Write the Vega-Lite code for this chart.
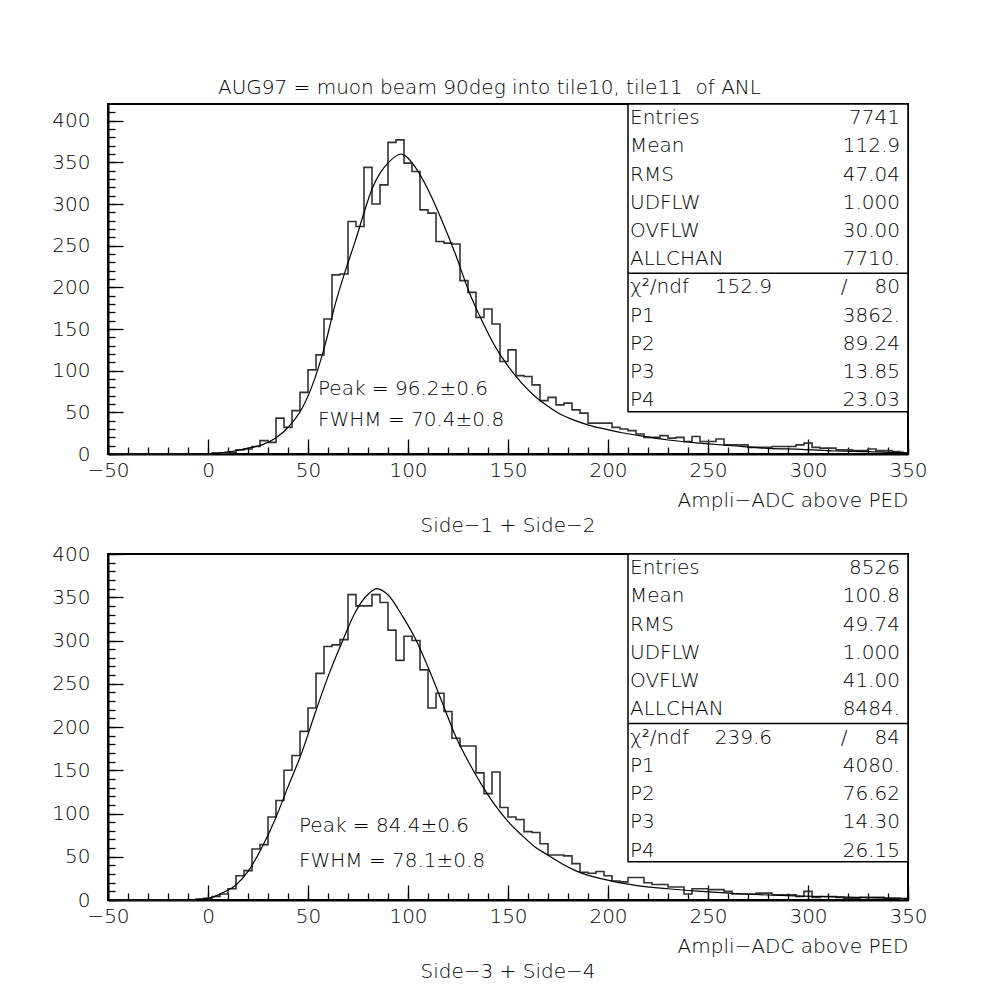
{
  "$schema": "https://vega.github.io/schema/vega-lite/v6.json",
  "background": "white",
  "padding": {"left": 50, "top": 78, "right": 5, "bottom": 5},
  "title": {"text": "AUG97 = muon beam 90deg into tile10, tile11\u00a0 of ANL", "anchor": "middle", "offset": 4},
  "spacing": 100,
  "bounds": "flush",
  "datasets": {
    "h1": [
      {"adc": -48, "n": 0}, {"adc": -44, "n": 0}, {"adc": -40, "n": 0}, {"adc": -36, "n": 0}, {"adc": -32, "n": 0},
      {"adc": -28, "n": 0}, {"adc": -24, "n": 0}, {"adc": -20, "n": 0}, {"adc": -16, "n": 0}, {"adc": -12, "n": 0},
      {"adc": -8, "n": 0}, {"adc": -4, "n": 0}, {"adc": 0, "n": 0}, {"adc": 4, "n": 1}, {"adc": 8, "n": 1},
      {"adc": 12, "n": 2}, {"adc": 16, "n": 5}, {"adc": 20, "n": 6}, {"adc": 24, "n": 9}, {"adc": 28, "n": 16},
      {"adc": 32, "n": 14}, {"adc": 36, "n": 43}, {"adc": 40, "n": 32}, {"adc": 44, "n": 52}, {"adc": 48, "n": 74},
      {"adc": 52, "n": 101}, {"adc": 56, "n": 119}, {"adc": 60, "n": 162}, {"adc": 64, "n": 215}, {"adc": 68, "n": 216},
      {"adc": 72, "n": 279}, {"adc": 76, "n": 273}, {"adc": 80, "n": 344}, {"adc": 84, "n": 300}, {"adc": 88, "n": 323},
      {"adc": 92, "n": 374}, {"adc": 96, "n": 377}, {"adc": 100, "n": 349}, {"adc": 104, "n": 339}, {"adc": 108, "n": 293},
      {"adc": 112, "n": 289}, {"adc": 116, "n": 255}, {"adc": 120, "n": 253}, {"adc": 124, "n": 252}, {"adc": 128, "n": 208},
      {"adc": 132, "n": 194}, {"adc": 136, "n": 164}, {"adc": 140, "n": 174}, {"adc": 144, "n": 156}, {"adc": 148, "n": 111},
      {"adc": 152, "n": 125}, {"adc": 156, "n": 94}, {"adc": 160, "n": 93}, {"adc": 164, "n": 83}, {"adc": 168, "n": 64},
      {"adc": 172, "n": 68}, {"adc": 176, "n": 59}, {"adc": 180, "n": 61}, {"adc": 184, "n": 53}, {"adc": 188, "n": 49},
      {"adc": 192, "n": 37}, {"adc": 196, "n": 37}, {"adc": 200, "n": 37}, {"adc": 204, "n": 32}, {"adc": 208, "n": 30},
      {"adc": 212, "n": 28}, {"adc": 216, "n": 24}, {"adc": 220, "n": 20}, {"adc": 224, "n": 20}, {"adc": 228, "n": 22},
      {"adc": 232, "n": 19}, {"adc": 236, "n": 20}, {"adc": 240, "n": 15}, {"adc": 244, "n": 21}, {"adc": 248, "n": 15},
      {"adc": 252, "n": 15}, {"adc": 256, "n": 18}, {"adc": 260, "n": 11}, {"adc": 264, "n": 11}, {"adc": 268, "n": 11},
      {"adc": 272, "n": 8}, {"adc": 276, "n": 8}, {"adc": 280, "n": 8}, {"adc": 284, "n": 9}, {"adc": 288, "n": 9},
      {"adc": 292, "n": 9}, {"adc": 296, "n": 11}, {"adc": 300, "n": 13}, {"adc": 304, "n": 8}, {"adc": 308, "n": 7},
      {"adc": 312, "n": 7}, {"adc": 316, "n": 5}, {"adc": 320, "n": 5}, {"adc": 324, "n": 4}, {"adc": 328, "n": 4},
      {"adc": 332, "n": 6}, {"adc": 336, "n": 4}, {"adc": 340, "n": 4}, {"adc": 344, "n": 3}, {"adc": 348, "n": 2}
    ],
    "h2": [
      {"adc": -48, "n": 0}, {"adc": -44, "n": 0}, {"adc": -40, "n": 0}, {"adc": -36, "n": 0}, {"adc": -32, "n": 0},
      {"adc": -28, "n": 0}, {"adc": -24, "n": 0}, {"adc": -20, "n": 0}, {"adc": -16, "n": 0}, {"adc": -12, "n": 0},
      {"adc": -8, "n": 0}, {"adc": -4, "n": 1}, {"adc": 0, "n": 2}, {"adc": 4, "n": 4}, {"adc": 8, "n": 7},
      {"adc": 12, "n": 13}, {"adc": 16, "n": 28}, {"adc": 20, "n": 34}, {"adc": 24, "n": 59}, {"adc": 28, "n": 64},
      {"adc": 32, "n": 96}, {"adc": 36, "n": 115}, {"adc": 40, "n": 150}, {"adc": 44, "n": 167}, {"adc": 48, "n": 195},
      {"adc": 52, "n": 222}, {"adc": 56, "n": 262}, {"adc": 60, "n": 293}, {"adc": 64, "n": 295}, {"adc": 68, "n": 301},
      {"adc": 72, "n": 353}, {"adc": 76, "n": 340}, {"adc": 80, "n": 340}, {"adc": 84, "n": 353}, {"adc": 88, "n": 344},
      {"adc": 92, "n": 312}, {"adc": 96, "n": 277}, {"adc": 100, "n": 305}, {"adc": 104, "n": 300}, {"adc": 108, "n": 266},
      {"adc": 112, "n": 222}, {"adc": 116, "n": 239}, {"adc": 120, "n": 218}, {"adc": 124, "n": 187}, {"adc": 128, "n": 178},
      {"adc": 132, "n": 178}, {"adc": 136, "n": 147}, {"adc": 140, "n": 123}, {"adc": 144, "n": 148}, {"adc": 148, "n": 107},
      {"adc": 152, "n": 96}, {"adc": 156, "n": 93}, {"adc": 160, "n": 79}, {"adc": 164, "n": 78}, {"adc": 168, "n": 65},
      {"adc": 172, "n": 52}, {"adc": 176, "n": 52}, {"adc": 180, "n": 51}, {"adc": 184, "n": 42}, {"adc": 188, "n": 32},
      {"adc": 192, "n": 31}, {"adc": 196, "n": 33}, {"adc": 200, "n": 28}, {"adc": 204, "n": 22}, {"adc": 208, "n": 21},
      {"adc": 212, "n": 26}, {"adc": 216, "n": 26}, {"adc": 220, "n": 20}, {"adc": 224, "n": 18}, {"adc": 228, "n": 18},
      {"adc": 232, "n": 15}, {"adc": 236, "n": 15}, {"adc": 240, "n": 7}, {"adc": 244, "n": 13}, {"adc": 248, "n": 13},
      {"adc": 252, "n": 12}, {"adc": 256, "n": 12}, {"adc": 260, "n": 10}, {"adc": 264, "n": 7}, {"adc": 268, "n": 7},
      {"adc": 272, "n": 7}, {"adc": 276, "n": 8}, {"adc": 280, "n": 8}, {"adc": 284, "n": 6}, {"adc": 288, "n": 6},
      {"adc": 292, "n": 6}, {"adc": 296, "n": 4}, {"adc": 300, "n": 10}, {"adc": 304, "n": 3}, {"adc": 308, "n": 4},
      {"adc": 312, "n": 4}, {"adc": 316, "n": 3}, {"adc": 320, "n": 2}, {"adc": 324, "n": 2}, {"adc": 328, "n": 3},
      {"adc": 332, "n": 3}, {"adc": 336, "n": 3}, {"adc": 340, "n": 2}, {"adc": 344, "n": 2}, {"adc": 348, "n": 1}
    ],
    "f1": [
      {"adc": -50, "fit": 0}, {"adc": -20, "fit": 0}, {"adc": -10, "fit": 0.05}, {"adc": -5, "fit": 0.1}, {"adc": 0, "fit": 0.3},
      {"adc": 5, "fit": 1}, {"adc": 10, "fit": 2.5}, {"adc": 15, "fit": 4.5}, {"adc": 20, "fit": 7}, {"adc": 27, "fit": 11},
      {"adc": 33.7, "fit": 18.8}, {"adc": 40.3, "fit": 32.7}, {"adc": 47, "fit": 54.7}, {"adc": 53.7, "fit": 92.6}, {"adc": 58.7, "fit": 132.5},
      {"adc": 63.7, "fit": 180.4}, {"adc": 68.7, "fit": 220}, {"adc": 73.7, "fit": 256}, {"adc": 77.8, "fit": 288}, {"adc": 82, "fit": 318},
      {"adc": 86, "fit": 337}, {"adc": 90.3, "fit": 350}, {"adc": 96.5, "fit": 360}, {"adc": 103.7, "fit": 344}, {"adc": 110.3, "fit": 316},
      {"adc": 117, "fit": 280}, {"adc": 123.7, "fit": 240}, {"adc": 130.3, "fit": 196}, {"adc": 137, "fit": 160}, {"adc": 143.7, "fit": 128.5},
      {"adc": 150.3, "fit": 104.6}, {"adc": 157, "fit": 84.7}, {"adc": 163.7, "fit": 68.7}, {"adc": 170.3, "fit": 56.7}, {"adc": 177, "fit": 46.7},
      {"adc": 183.7, "fit": 40}, {"adc": 190.3, "fit": 34.7}, {"adc": 197, "fit": 30.7}, {"adc": 207, "fit": 25.5}, {"adc": 213.7, "fit": 22.8},
      {"adc": 230, "fit": 16.8}, {"adc": 247, "fit": 12.8}, {"adc": 263.7, "fit": 9.6}, {"adc": 280, "fit": 6.8}, {"adc": 297, "fit": 5.6},
      {"adc": 313.7, "fit": 3.6}, {"adc": 330, "fit": 2.8}, {"adc": 347, "fit": 1.6}, {"adc": 350, "fit": 1.5}
    ],
    "f2": [
      {"adc": -50, "fit": 0}, {"adc": -20, "fit": 0}, {"adc": -10, "fit": 0.2}, {"adc": -3, "fit": 1}, {"adc": 2, "fit": 3},
      {"adc": 7, "fit": 8}, {"adc": 13.7, "fit": 16.8}, {"adc": 20.3, "fit": 34}, {"adc": 27, "fit": 61}, {"adc": 33.7, "fit": 94},
      {"adc": 40.3, "fit": 132.5}, {"adc": 47, "fit": 171}, {"adc": 53.7, "fit": 217}, {"adc": 60.3, "fit": 260}, {"adc": 67, "fit": 298},
      {"adc": 73.7, "fit": 333}, {"adc": 80.3, "fit": 354}, {"adc": 84.4, "fit": 360}, {"adc": 90.3, "fit": 352}, {"adc": 97, "fit": 329},
      {"adc": 103.7, "fit": 302}, {"adc": 110.3, "fit": 267.6}, {"adc": 117, "fit": 229}, {"adc": 123.7, "fit": 190}, {"adc": 130.3, "fit": 159.5},
      {"adc": 137, "fit": 132.5}, {"adc": 143.7, "fit": 109}, {"adc": 150.3, "fit": 90}, {"adc": 157, "fit": 74.7}, {"adc": 163.7, "fit": 61},
      {"adc": 170.3, "fit": 51.5}, {"adc": 177, "fit": 41.9}, {"adc": 183.7, "fit": 34}, {"adc": 190.3, "fit": 28.4}, {"adc": 197, "fit": 24.5},
      {"adc": 207, "fit": 19.5}, {"adc": 213.7, "fit": 17}, {"adc": 230, "fit": 13}, {"adc": 247, "fit": 10}, {"adc": 263.7, "fit": 7.5},
      {"adc": 280, "fit": 5.8}, {"adc": 297, "fit": 4.5}, {"adc": 313.7, "fit": 3.5}, {"adc": 330, "fit": 2.7}, {"adc": 347, "fit": 2},
      {"adc": 350, "fit": 1.9}
    ],
    "s1": [
      {"row": 1, "label": "Entries", "value": "7741"},
      {"row": 2, "label": "Mean", "value": "112.9"},
      {"row": 3, "label": "RMS", "value": "47.04"},
      {"row": 4, "label": "UDFLW", "value": "1.000"},
      {"row": 5, "label": "OVFLW", "value": "30.00"},
      {"row": 6, "label": "ALLCHAN", "value": "7710."},
      {"row": 7, "label": "χ²/ndf", "value": "80", "chi2": "152.9"},
      {"row": 8, "label": "P1", "value": "3862."},
      {"row": 9, "label": "P2", "value": "89.24"},
      {"row": 10, "label": "P3", "value": "13.85"},
      {"row": 11, "label": "P4", "value": "23.03"}
    ],
    "s2": [
      {"row": 1, "label": "Entries", "value": "8526"},
      {"row": 2, "label": "Mean", "value": "100.8"},
      {"row": 3, "label": "RMS", "value": "49.74"},
      {"row": 4, "label": "UDFLW", "value": "1.000"},
      {"row": 5, "label": "OVFLW", "value": "41.00"},
      {"row": 6, "label": "ALLCHAN", "value": "8484."},
      {"row": 7, "label": "χ²/ndf", "value": "84", "chi2": "239.6"},
      {"row": 8, "label": "P1", "value": "4080."},
      {"row": 9, "label": "P2", "value": "76.62"},
      {"row": 10, "label": "P3", "value": "14.30"},
      {"row": 11, "label": "P4", "value": "26.15"}
    ]
  },
  "vconcat": [
    {
      "width": 800,
      "height": 350,
      "title": {"text": "Side−1 + Side−2", "orient": "bottom", "anchor": "middle", "offset": 6},
      "layer": [
        {
          "data": {"name": "h1"},
          "mark": {"type": "line", "interpolate": "step", "color": "#333333", "strokeWidth": 1.6},
          "encoding": {
            "x": {"field": "adc", "type": "quantitative", "scale": {"domain": [-50, 350], "nice": false, "zero": false},
              "axis": {"orient": "bottom", "values": [-50, 0, 50, 100, 150, 200, 250, 300, 350], "tickSize": -15, "labelPadding": 21, "labelFlush": false, "labelOverlap": false,
                "title": "Ampli−ADC above PED", "titleAnchor": "end", "titleAlign": "right", "titlePadding": 10}},
            "y": {"field": "n", "type": "quantitative", "scale": {"domain": [0, 420], "nice": false},
              "axis": {"orient": "left", "values": [0, 50, 100, 150, 200, 250, 300, 350, 400], "tickSize": -15, "labelPadding": 33, "labelFlush": false, "labelOverlap": false, "title": null}}
          }
        },
        {
          "data": {"name": "f1"},
          "mark": {"type": "line", "interpolate": "monotone", "color": "black", "strokeWidth": 1.2},
          "encoding": {
            "x": {"field": "adc", "type": "quantitative", "scale": {"domain": [-50, 350], "nice": false, "zero": false},
              "axis": {"orient": "bottom", "values": [-50, -40, -30, -20, -10, 0, 10, 20, 30, 40, 50, 60, 70, 80, 90, 100, 110, 120, 130, 140, 150, 160, 170, 180, 190, 200, 210, 220, 230, 240, 250, 260, 270, 280, 290, 300, 310, 320, 330, 340, 350], "tickSize": -7, "labels": false, "domain": false, "title": null}},
            "y": {"field": "fit", "type": "quantitative", "scale": {"domain": [0, 420], "nice": false},
              "axis": {"orient": "left", "values": [0, 10, 20, 30, 40, 50, 60, 70, 80, 90, 100, 110, 120, 130, 140, 150, 160, 170, 180, 190, 200, 210, 220, 230, 240, 250, 260, 270, 280, 290, 300, 310, 320, 330, 340, 350, 360, 370, 380, 390, 400, 410], "tickSize": -7, "labels": false, "domain": false, "title": null}}
          }
        },
        {
          "data": {"values": [{"note": "Peak = 96.2±0.6"}]},
          "mark": {"type": "text", "align": "left", "baseline": "middle"},
          "encoding": {
            "text": {"field": "note"},
            "x": {"datum": 55, "scale": {"domain": [-50, 350], "nice": false, "zero": false}, "axis": null},
            "y": {"datum": 78, "scale": {"domain": [0, 420], "nice": false}, "axis": null}
          }
        },
        {
          "data": {"values": [{"note": "FWHM = 70.4±0.8"}]},
          "mark": {"type": "text", "align": "left", "baseline": "middle"},
          "encoding": {
            "text": {"field": "note"},
            "x": {"datum": 55, "scale": {"domain": [-50, 350], "nice": false, "zero": false}, "axis": null},
            "y": {"datum": 40.5, "scale": {"domain": [0, 420], "nice": false}, "axis": null}
          }
        },
        {
          "data": {"values": [{"box": "stats"}]},
          "mark": {"type": "rect", "fill": "white", "stroke": "black", "strokeWidth": 1.5},
          "encoding": {
            "x": {"datum": 210, "scale": {"domain": [-50, 350], "nice": false, "zero": false}, "axis": null},
            "x2": {"datum": 350},
            "y": {"datum": 0.5, "scale": {"domain": [0.5, 12.9], "reverse": true, "nice": false, "zero": false}, "axis": null},
            "y2": {"datum": 11.4}
          }
        },
        {
          "data": {"values": [{"box": "stats"}]},
          "mark": {"type": "rule", "color": "black", "strokeWidth": 1.5},
          "encoding": {
            "x": {"datum": 210, "scale": {"domain": [-50, 350], "nice": false, "zero": false}, "axis": null},
            "x2": {"datum": 350},
            "y": {"datum": 6.5, "scale": {"domain": [0.5, 12.9], "reverse": true, "nice": false, "zero": false}, "axis": null}
          }
        },
        {
          "data": {"name": "s1"},
          "mark": {"type": "text", "align": "left", "baseline": "middle"},
          "encoding": {
            "text": {"field": "label"},
            "x": {"datum": 211, "scale": {"domain": [-50, 350], "nice": false, "zero": false}, "axis": null},
            "y": {"field": "row", "type": "quantitative", "scale": {"domain": [0.5, 12.9], "reverse": true, "nice": false, "zero": false}, "axis": null}
          }
        },
        {
          "data": {"name": "s1"},
          "mark": {"type": "text", "align": "right", "baseline": "middle"},
          "encoding": {
            "text": {"field": "value"},
            "x": {"datum": 346, "scale": {"domain": [-50, 350], "nice": false, "zero": false}, "axis": null},
            "y": {"field": "row", "type": "quantitative", "scale": {"domain": [0.5, 12.9], "reverse": true, "nice": false, "zero": false}, "axis": null}
          }
        },
        {
          "data": {"name": "s1"},
          "transform": [{"filter": "datum.chi2"}],
          "mark": {"type": "text", "align": "right", "baseline": "middle"},
          "encoding": {
            "text": {"field": "chi2"},
            "x": {"datum": 282, "scale": {"domain": [-50, 350], "nice": false, "zero": false}, "axis": null},
            "y": {"field": "row", "type": "quantitative", "scale": {"domain": [0.5, 12.9], "reverse": true, "nice": false, "zero": false}, "axis": null}
          }
        },
        {
          "data": {"name": "s1"},
          "transform": [{"filter": "datum.chi2"}],
          "mark": {"type": "text", "align": "center", "baseline": "middle", "text": "/"},
          "encoding": {
            "x": {"datum": 318, "scale": {"domain": [-50, 350], "nice": false, "zero": false}, "axis": null},
            "y": {"field": "row", "type": "quantitative", "scale": {"domain": [0.5, 12.9], "reverse": true, "nice": false, "zero": false}, "axis": null}
          }
        }
      ],
      "resolve": {"scale": {"y": "independent"}, "axis": {"x": "independent", "y": "independent"}}
    },
    {
      "width": 800,
      "height": 346,
      "title": {"text": "Side−3 + Side−4", "orient": "bottom", "anchor": "middle", "offset": 6},
      "layer": [
        {
          "data": {"name": "h2"},
          "mark": {"type": "line", "interpolate": "step", "color": "#333333", "strokeWidth": 1.6},
          "encoding": {
            "x": {"field": "adc", "type": "quantitative", "scale": {"domain": [-50, 350], "nice": false, "zero": false},
              "axis": {"orient": "bottom", "values": [-50, 0, 50, 100, 150, 200, 250, 300, 350], "tickSize": -15, "labelPadding": 21, "labelFlush": false, "labelOverlap": false,
                "title": "Ampli−ADC above PED", "titleAnchor": "end", "titleAlign": "right", "titlePadding": 10}},
            "y": {"field": "n", "type": "quantitative", "scale": {"domain": [0, 400], "nice": false},
              "axis": {"orient": "left", "values": [0, 50, 100, 150, 200, 250, 300, 350, 400], "tickSize": -15, "labelPadding": 33, "labelFlush": false, "labelOverlap": false, "title": null}}
          }
        },
        {
          "data": {"name": "f2"},
          "mark": {"type": "line", "interpolate": "monotone", "color": "black", "strokeWidth": 1.2},
          "encoding": {
            "x": {"field": "adc", "type": "quantitative", "scale": {"domain": [-50, 350], "nice": false, "zero": false},
              "axis": {"orient": "bottom", "values": [-50, -40, -30, -20, -10, 0, 10, 20, 30, 40, 50, 60, 70, 80, 90, 100, 110, 120, 130, 140, 150, 160, 170, 180, 190, 200, 210, 220, 230, 240, 250, 260, 270, 280, 290, 300, 310, 320, 330, 340, 350], "tickSize": -7, "labels": false, "domain": false, "title": null}},
            "y": {"field": "fit", "type": "quantitative", "scale": {"domain": [0, 400], "nice": false},
              "axis": {"orient": "left", "values": [0, 10, 20, 30, 40, 50, 60, 70, 80, 90, 100, 110, 120, 130, 140, 150, 160, 170, 180, 190, 200, 210, 220, 230, 240, 250, 260, 270, 280, 290, 300, 310, 320, 330, 340, 350, 360, 370, 380, 390, 400], "tickSize": -7, "labels": false, "domain": false, "title": null}}
          }
        },
        {
          "data": {"values": [{"note": "Peak = 84.4±0.6"}]},
          "mark": {"type": "text", "align": "left", "baseline": "middle"},
          "encoding": {
            "text": {"field": "note"},
            "x": {"datum": 45.5, "scale": {"domain": [-50, 350], "nice": false, "zero": false}, "axis": null},
            "y": {"datum": 85, "scale": {"domain": [0, 400], "nice": false}, "axis": null}
          }
        },
        {
          "data": {"values": [{"note": "FWHM = 78.1±0.8"}]},
          "mark": {"type": "text", "align": "left", "baseline": "middle"},
          "encoding": {
            "text": {"field": "note"},
            "x": {"datum": 45.5, "scale": {"domain": [-50, 350], "nice": false, "zero": false}, "axis": null},
            "y": {"datum": 45.5, "scale": {"domain": [0, 400], "nice": false}, "axis": null}
          }
        },
        {
          "data": {"values": [{"box": "stats"}]},
          "mark": {"type": "rect", "fill": "white", "stroke": "black", "strokeWidth": 1.5},
          "encoding": {
            "x": {"datum": 210, "scale": {"domain": [-50, 350], "nice": false, "zero": false}, "axis": null},
            "x2": {"datum": 350},
            "y": {"datum": 0.5, "scale": {"domain": [0.5, 12.75], "reverse": true, "nice": false, "zero": false}, "axis": null},
            "y2": {"datum": 11.4}
          }
        },
        {
          "data": {"values": [{"box": "stats"}]},
          "mark": {"type": "rule", "color": "black", "strokeWidth": 1.5},
          "encoding": {
            "x": {"datum": 210, "scale": {"domain": [-50, 350], "nice": false, "zero": false}, "axis": null},
            "x2": {"datum": 350},
            "y": {"datum": 6.5, "scale": {"domain": [0.5, 12.75], "reverse": true, "nice": false, "zero": false}, "axis": null}
          }
        },
        {
          "data": {"name": "s2"},
          "mark": {"type": "text", "align": "left", "baseline": "middle"},
          "encoding": {
            "text": {"field": "label"},
            "x": {"datum": 211, "scale": {"domain": [-50, 350], "nice": false, "zero": false}, "axis": null},
            "y": {"field": "row", "type": "quantitative", "scale": {"domain": [0.5, 12.75], "reverse": true, "nice": false, "zero": false}, "axis": null}
          }
        },
        {
          "data": {"name": "s2"},
          "mark": {"type": "text", "align": "right", "baseline": "middle"},
          "encoding": {
            "text": {"field": "value"},
            "x": {"datum": 346, "scale": {"domain": [-50, 350], "nice": false, "zero": false}, "axis": null},
            "y": {"field": "row", "type": "quantitative", "scale": {"domain": [0.5, 12.75], "reverse": true, "nice": false, "zero": false}, "axis": null}
          }
        },
        {
          "data": {"name": "s2"},
          "transform": [{"filter": "datum.chi2"}],
          "mark": {"type": "text", "align": "right", "baseline": "middle"},
          "encoding": {
            "text": {"field": "chi2"},
            "x": {"datum": 282, "scale": {"domain": [-50, 350], "nice": false, "zero": false}, "axis": null},
            "y": {"field": "row", "type": "quantitative", "scale": {"domain": [0.5, 12.75], "reverse": true, "nice": false, "zero": false}, "axis": null}
          }
        },
        {
          "data": {"name": "s2"},
          "transform": [{"filter": "datum.chi2"}],
          "mark": {"type": "text", "align": "center", "baseline": "middle", "text": "/"},
          "encoding": {
            "x": {"datum": 318, "scale": {"domain": [-50, 350], "nice": false, "zero": false}, "axis": null},
            "y": {"field": "row", "type": "quantitative", "scale": {"domain": [0.5, 12.75], "reverse": true, "nice": false, "zero": false}, "axis": null}
          }
        }
      ],
      "resolve": {"scale": {"y": "independent"}, "axis": {"x": "independent", "y": "independent"}}
    }
  ],
  "config": {
    "font": "DejaVu Sans",
    "view": {"stroke": "black", "strokeWidth": 2},
    "axis": {"domainColor": "black", "domainWidth": 2, "tickColor": "black", "tickWidth": 1.3, "labelColor": "black", "labelFont": "DejaVu Sans", "labelFontSize": 20, "labelFontWeight": 200, "titleColor": "black", "titleFont": "DejaVu Sans", "titleFontSize": 20, "titleFontWeight": 200, "grid": false},
    "text": {"font": "DejaVu Sans", "fontSize": 20, "fontWeight": 200, "color": "black"},
    "title": {"font": "DejaVu Sans", "fontSize": 20, "fontWeight": 200, "color": "black", "subtitleFont": "DejaVu Sans"}
  }
}
